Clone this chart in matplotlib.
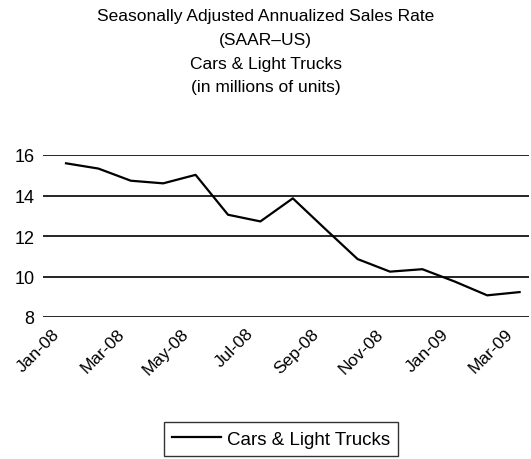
import matplotlib.pyplot as plt
from matplotlib.transforms import ScaledTranslation

plt.rcParams['font.family'] = ['Liberation Sans', 'DejaVu Sans']

# Data (millions of units)
months = ["Jan-08", "Feb-08", "Mar-08", "Apr-08", "May-08", "Jun-08", "Jul-08", "Aug-08",
          "Sep-08", "Oct-08", "Nov-08", "Dec-08", "Jan-09", "Feb-09", "Mar-09"]
saar = [15.59, 15.33, 14.73, 14.6, 15.02, 13.05, 12.72, 13.86,
        12.35, 10.86, 10.24, 10.36, 9.75, 9.07, 9.23]
series_name = "Cars & Light Trucks"

fig = plt.figure(figsize=(5.31, 4.60), dpi=100)
ax = fig.add_axes([43 / 531, 1 - 318 / 460, (529 - 43) / 531, (318 - 156) / 460])

x = list(range(len(months)))
ax.plot(x, saar, color="black", linewidth=1.6, label=series_name)

ax.set_ylim(8, 16)
ax.set_yticks([8, 10, 12, 14, 16])
ax.set_xlim(-0.71, 14.29)
ax.set_xticks(x[::2])
ax.set_xticklabels(months[::2], rotation=45, ha="right", va="center",
                   rotation_mode="anchor", fontsize=12.5)
ax.tick_params(axis="y", labelsize=13, length=0, pad=6)
ax.tick_params(axis="x", length=0, pad=10)
shift = ScaledTranslation(-9 / 100, 0, fig.dpi_scale_trans)
for lbl in ax.get_xticklabels():
    lbl.set_transform(lbl.get_transform() + shift)
ax.grid(axis="y", color="black", linewidth=1.2)
ax.set_axisbelow(True)
for s in ax.spines.values():
    s.set_visible(False)

# Title
title_lines = ["Seasonally Adjusted Annualized Sales Rate", "(SAAR\u2013US)",
               "Cars & Light Trucks", "(in millions of units)"]
for i, t in enumerate(title_lines):
    fig.text(0.5, 1 - (17 + 23.5 * i) / 460, t, ha="center", va="center", fontsize=12.5)

leg = fig.legend(loc="center", bbox_to_anchor=(281 / 531, 1 - 440 / 460), frameon=True,
                 fancybox=False, edgecolor="black", fontsize=13.5, handlelength=2.6,
                 handletextpad=0.3, borderpad=0.45)
leg.get_frame().set_linewidth(1.0)

fig.savefig("out.png", dpi=100)
